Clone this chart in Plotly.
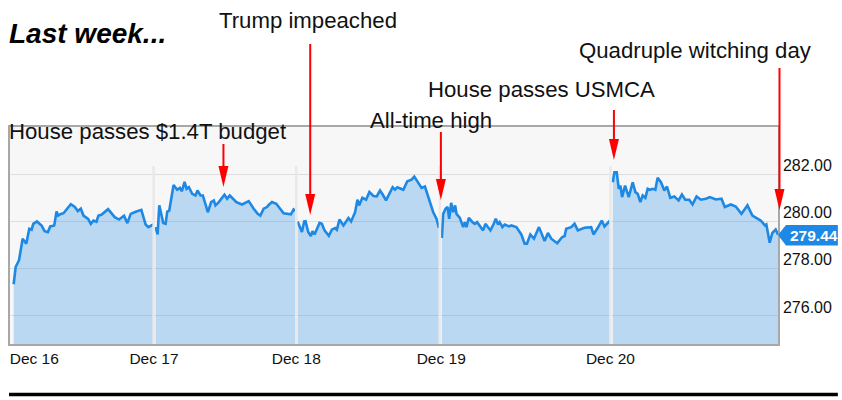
import plotly.graph_objects as go

# Horizontal position along the session axis, and price, for each trading day
dec16_pos = [38,44,54,65,76,85,92,97,108,122,131,141,148,155,160,167,172,180,188,200,210,222,231,240,248,262,270,278,287,293,302,322,342,355,370,380,390,405,422,435,443,458]
dec16_px = [277.34,278.07,278.35,279.27,279.06,279.69,279.65,279.90,280.00,279.83,279.59,279.55,279.79,279.83,279.83,280.42,280.25,280.32,280.35,280.56,280.73,280.61,280.44,280.54,280.25,280.11,279.90,280.04,279.99,280.25,280.28,280.52,280.18,280.08,280.24,279.93,280.32,280.41,280.49,279.87,279.76,279.87]

dec17_pos = [465,471,476,488,495,500,506,519,530,538,544,552,558,565,575,585,591,600,607,622,632,640,645,655,672,680,688,708,725,745,760,772,780,790,800,805,815,828,850,860,872,880,885]
dec17_px = [279.76,279.45,280.68,279.93,279.90,280.42,280.46,281.54,281.34,281.42,281.28,281.68,281.38,281.45,281.17,281.10,281.31,281.10,281.10,280.39,280.82,280.89,280.68,280.82,281.13,280.96,281.10,280.82,280.72,280.86,280.54,280.32,280.25,280.54,280.61,280.70,280.82,280.75,280.35,280.32,280.30,280.51,280.46]

dec18_pos = [892,905,912,916,924,932,937,943,958,965,973,986,995,1005,1010,1018,1030,1045,1053,1065,1072,1077,1087,1098,1108,1120,1130,1140,1148,1158,1178,1185,1192,1210,1222,1235,1243,1255,1265,1275,1285,1300,1310,1317]
dec18_px = [280.00,279.55,280.00,280.01,279.55,279.38,279.59,279.45,279.94,279.90,279.62,279.39,279.65,279.72,279.65,280.08,279.83,280.15,280.00,280.39,280.92,280.68,281.00,280.92,281.25,281.08,281.06,281.31,281.14,280.89,281.45,281.35,281.45,281.34,281.70,281.77,281.90,281.66,281.42,281.48,281.06,280.39,280.11,279.73]

dec19_pos = [1326,1330,1337,1343,1348,1354,1360,1366,1370,1380,1390,1395,1400,1407,1418,1425,1432,1450,1457,1472,1482,1488,1495,1500,1508,1515,1528,1535,1550,1565,1575,1582,1592,1603,1618,1635,1645,1655,1673,1688,1695,1700,1715,1725,1735,1755,1775,1782,1795,1807,1815,1832]
dec19_px = [279.30,280.32,280.54,280.61,280.11,280.79,280.39,280.68,280.32,280.15,279.76,279.97,279.76,280.15,279.97,279.90,279.97,279.62,279.90,279.62,279.90,280.11,279.87,279.97,279.76,279.87,279.79,279.83,279.76,279.45,279.06,279.06,279.45,279.27,279.76,279.17,279.51,279.27,279.08,279.34,279.37,279.69,279.76,279.90,279.62,279.73,279.76,279.45,279.73,280.04,279.79,280.04]

dec20_pos = [1840,1845,1852,1858,1863,1868,1877,1888,1900,1908,1915,1923,1930,1938,1945,1952,1960,1968,1975,1985,1995,2003,2013,2025,2038,2048,2058,2070,2080,2092,2105,2120,2132,2150,2167,2177,2195,2210,2227,2245,2260,2285,2298,2302,2312,2320,2330,2337]
dec20_px = [281.66,282.08,282.08,281.38,281.52,281.03,281.52,281.03,281.66,281.24,281.17,280.82,281.10,281.00,281.38,281.34,281.38,281.34,281.85,281.66,281.31,281.48,281.00,281.06,280.89,281.14,280.92,280.92,280.72,281.06,280.92,280.96,281.03,280.93,280.96,280.61,280.72,280.63,280.32,280.68,280.25,280.04,279.83,279.87,279.10,279.51,279.66,279.44]

day_labels = ["Dec 16", "Dec 17", "Dec 18", "Dec 19", "Dec 20"]
day_ticks = [100, 460, 888, 1324, 1833]
session_breaks = [459, 888, 1320, 1833]
price_ticks = [276, 278, 280, 282]
last_price = "279.44"
title_text = "Last week..."
notes = [
    ("House passes $1.4T budget", 9, 131),
    ("Trump impeached", 219, 21),
    ("All-time high", 370, 121),
    ("House passes USMCA", 429, 89),
    ("Quadruple witching day", 580, 51),
]
arrows = [(222, 144, 187), (309, 44, 215), (440, 132, 200), (613.5, 110, 160), (779.5, 68, 210)]

W, H = 842, 400
L, R, T, B = 8, 778, 127, 344
FONT = "Liberation Sans"
px = lambda x: (x - L) / (R - L)
py = lambda y: (B - y) / (B - T)

fig = go.Figure()
for xs, ys in [(dec16_pos, dec16_px), (dec17_pos, dec17_px), (dec18_pos, dec18_px),
               (dec19_pos, dec19_px), (dec20_pos, dec20_px)]:
    fig.add_trace(go.Scatter(x=xs, y=ys, mode="lines", fill="tozeroy",
                             fillcolor="rgba(33,136,230,0.28)",
                             line=dict(color="#1e88e5", width=2.6),
                             hoverinfo="skip", showlegend=False))

shapes = []
for b in session_breaks:
    shapes.append(dict(type="line", xref="x", yref="y", x0=b, x1=b, y0=274.81, y1=282.35,
                       line=dict(color="#e9e9e9", width=2.5), layer="above"))
for x, y0, y1 in arrows:
    shapes.append(dict(type="line", xref="paper", yref="paper", x0=px(x), x1=px(x),
                       y0=py(y0), y1=py(y1 - 20), line=dict(color="#fe0000", width=2), layer="above"))
    shapes.append(dict(type="path", xref="paper", yref="paper", fillcolor="#fe0000",
                       line=dict(width=0), layer="above",
                       path=f"M{px(x-5)},{py(y1-21)} L{px(x+5)},{py(y1-21)} L{px(x)},{py(y1)} Z"))
tag = [(778, 235), (786, 225), (838, 225), (838, 245.5), (786, 245.5)]
shapes.append(dict(type="path", xref="paper", yref="paper", fillcolor="#1e88e5",
                   line=dict(width=0), layer="above",
                   path="M" + " L".join(f"{px(a)},{py(b)}" for a, b in tag) + " Z"))
shapes.append(dict(type="line", xref="paper", yref="paper", x0=px(7), x1=px(838),
                   y0=py(394.5), y1=py(394.5), line=dict(color="#000000", width=3.5)))

ann = [dict(text=f"<b><i>{title_text}</i></b>", xref="paper", yref="paper", x=px(4.5), y=py(33),
            xanchor="left", yanchor="middle", showarrow=False,
            font=dict(family=FONT, size=28, color="#000000")),
       dict(text=f"<b>{last_price}</b>", xref="paper", yref="paper", x=px(814), y=py(235.5),
            xanchor="center", yanchor="middle", showarrow=False,
            font=dict(family=FONT, size=15.5, color="#ffffff"))]
for t, x, y in notes:
    ann.append(dict(text=t, xref="paper", yref="paper", x=px(x), y=py(y), xanchor="left",
                    xshift=-3.5, yanchor="middle", showarrow=False,
                    font=dict(family=FONT, size=22.2, color="#111111")))

fig.update_layout(
    width=W, height=H, margin=dict(l=L, r=W - R, t=T, b=H - B),
    paper_bgcolor="#ffffff", plot_bgcolor="#f7f7f7", shapes=shapes, annotations=ann,
    xaxis=dict(range=[27, 2337], tickmode="array", tickvals=day_ticks, ticktext=day_labels,
               showgrid=False, zeroline=False, ticks="", showline=True, mirror=True,
               linecolor="#a8a8a8", linewidth=1.5,
               tickfont=dict(family=FONT, size=15.5, color="#111111")),
    yaxis=dict(range=[274.81, 284.0], side="right", tickmode="array", tickvals=price_ticks,
               tickformat=".2f", showgrid=True, gridcolor="#dedede", gridwidth=1.3,
               zeroline=False, ticks="", showline=True, mirror=True, ticklabelshift=-9,
               linecolor="#a8a8a8", linewidth=1.5,
               tickfont=dict(family=FONT, size=16, color="#111111")),
)
fig.write_html("out.html", config={"displayModeBar": False},
               post_script="document.body.style.margin='0';")
